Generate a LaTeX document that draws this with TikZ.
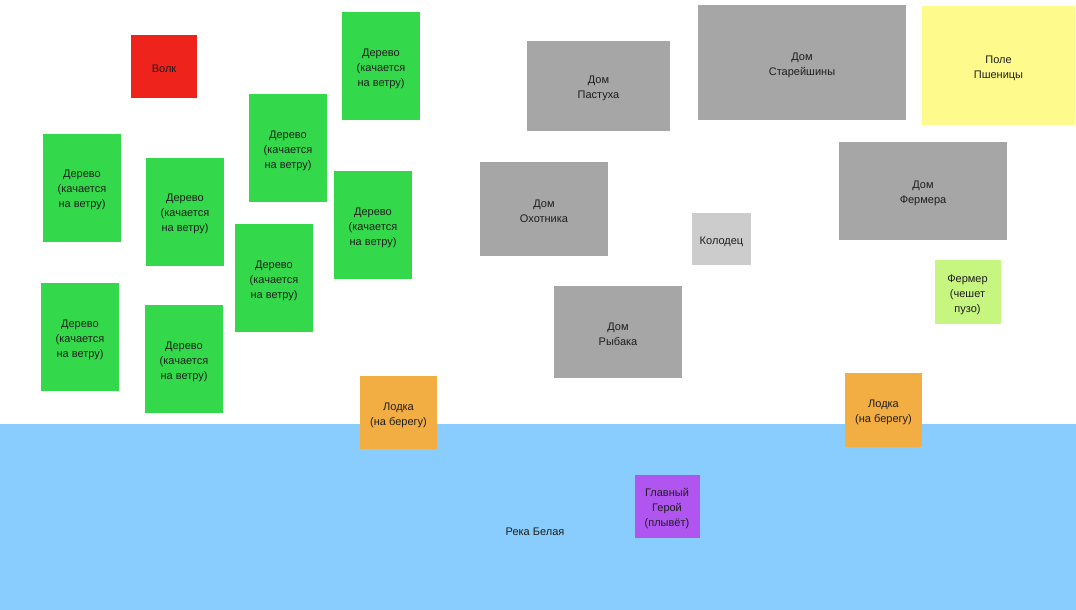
\documentclass[tikz,border=0pt]{standalone}
\usepackage{fontspec}
\setmainfont{Liberation Sans}
\definecolor{treeg}{HTML}{33D94A}
\definecolor{houseg}{HTML}{A6A6A6}
\definecolor{wellg}{HTML}{CCCCCC}
\definecolor{fieldy}{HTML}{FFFA8C}
\definecolor{farmer}{HTML}{C6F580}
\definecolor{boat}{HTML}{F2AD43}
\definecolor{hero}{HTML}{B055F0}
\definecolor{wolf}{HTML}{EE231C}
\definecolor{river}{HTML}{88CDFD}
\definecolor{txt}{HTML}{1E1E1E}
\begin{document}
\begin{tikzpicture}[x=1pt,y=-1pt,
  box/.style={rectangle,inner sep=0pt,draw=none},
  txtl/.style={label={[font=\fontsize{11}{15}\selectfont,align=center,text=txt,inner sep=0pt,yshift=-2.5pt]center:{#1}}},
  tree/.style={box,fill=treeg,minimum width=78pt,minimum height=108pt},
  house/.style={box,fill=houseg},
  boatbox/.style={box,fill=boat,minimum width=77pt,minimum height=73pt}]
\fill[white] (0,0) rectangle (1076,610);
\useasboundingbox (0,0) rectangle (1076,610);
\fill[river] (0,424) rectangle (1076,610);
\node[box,txtl={Река Белая}] (reka) at (535,529) {};
\node[box,fill=wolf,minimum width=66pt,minimum height=63pt,txtl={Волк}] (volk) at (164,66.5) {};
\node[tree,txtl={Дерево\\(качается\\на ветру)}] (t1) at (82,187.5) {};
\node[tree,txtl={Дерево\\(качается\\на ветру)}] (t2) at (185,211.5) {};
\node[tree,txtl={Дерево\\(качается\\на ветру)}] (t3) at (288,148) {};
\node[tree,txtl={Дерево\\(качается\\на ветру)}] (t4) at (381,66) {};
\node[tree,txtl={Дерево\\(качается\\на ветру)}] (t5) at (373,225) {};
\node[tree,txtl={Дерево\\(качается\\на ветру)}] (t6) at (274,278) {};
\node[tree,txtl={Дерево\\(качается\\на ветру)}] (t7) at (80,337) {};
\node[tree,txtl={Дерево\\(качается\\на ветру)}] (t8) at (184,359) {};
\node[house,minimum width=143pt,minimum height=90pt,txtl={Дом\\Пастуха}] (pastuh) at (598.5,86) {};
\node[house,minimum width=208pt,minimum height=115pt,txtl={Дом\\Старейшины}] (starei) at (802,62.5) {};
\node[box,fill=fieldy,minimum width=153pt,minimum height=119pt,txtl={Поле\\Пшеницы}] (pole) at (998.5,65.5) {};
\node[house,minimum width=128pt,minimum height=94pt,txtl={Дом\\Охотника}] (ohot) at (544,209) {};
\node[box,fill=wellg,minimum width=59pt,minimum height=52pt,txtl={Колодец}] (kolodec) at (721.5,239) {};
\node[house,minimum width=168pt,minimum height=98pt,txtl={Дом\\Фермера}] (fermerdom) at (923,191) {};
\node[box,fill=farmer,minimum width=66pt,minimum height=64pt,txtl={Фермер\\(чешет\\пузо)}] (fermer) at (967.5,292) {};
\node[house,minimum width=128pt,minimum height=92pt,txtl={Дом\\Рыбака}] (rybak) at (618,332) {};
\node[boatbox,txtl={Лодка\\(на берегу)}] (lodka1) at (398.5,412.5) {};
\node[boatbox,minimum height=74pt,txtl={Лодка\\(на берегу)}] (lodka2) at (883.5,410) {};
\node[box,fill=hero,minimum width=65pt,minimum height=63pt,txtl={Главный\\Герой\\(плывёт)}] (geroi) at (667,506.5) {};
\end{tikzpicture}
\end{document}
